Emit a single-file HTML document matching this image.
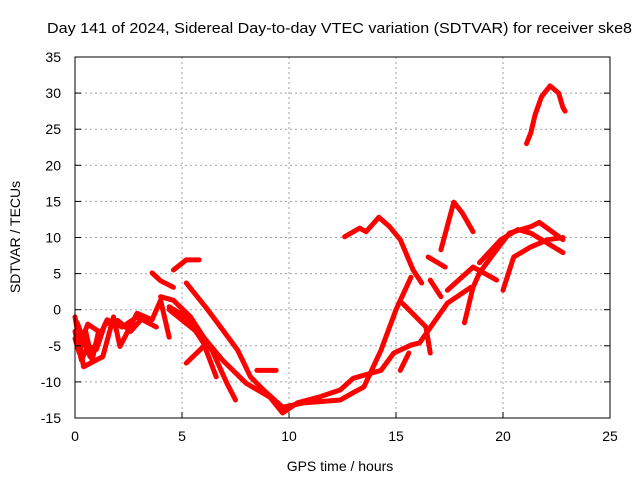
<!DOCTYPE html>
<html><head><meta charset="utf-8"><style>
body{margin:0;background:#fff;}
svg{display:block;font-family:"Liberation Sans",sans-serif;}
</style></head><body>
<svg id="c" width="640" height="480">
<text x="47" y="33" font-size="15" textLength="585" lengthAdjust="spacingAndGlyphs">Day 141 of 2024, Sidereal Day-to-day VTEC variation (SDTVAR) for receiver ske8</text>
<text transform="translate(20,237) rotate(-90)" font-size="14" text-anchor="middle">SDTVAR / TECUs</text>
<text x="340" y="471" font-size="14" text-anchor="middle">GPS time / hours</text>
<g id="grid"></g><g id="series"></g><g id="axes"></g>
</svg>
<script>
const xTicks=[0,5,10,15,20,25];
const yTicks=[-15,-10,-5,0,5,10,15,20,25,30,35];
const track1=[[0,-1],[0.4,-7.9],[1.3,-6.5],[1.8,-1],[2.1,-5.1],[2.9,-0.5],[3.6,-1.4],[4.0,1.3],[4.4,-3.8]];
const track2=[[0.1,-1.8],[0.7,-6.5],[1.5,-1.4],[2.2,-2.4],[2.9,-1],[3.8,-2.4]];
const track3=[[0,-3],[0.3,-7],[0.6,-5],[1,-5.5],[1.4,-2],[2,-1.5],[2.6,-3],[3.2,-1]];
const track3b=[[0,-4],[0.2,-6],[0.5,-3],[0.8,-7],[1.1,-3],[0.6,-2],[0.2,-5]];
const track4=[[3.6,5.1],[4.0,4.0],[4.6,3.1]];
const track5=[[4.6,5.5],[5.2,6.9],[5.8,6.9]];
const track6=[[4.0,1.8],[4.6,1.3],[5.4,-1],[6.4,-5.6],[7.1,-10.2],[7.5,-12.5]];
const track7=[[4.4,0.4],[5.2,-1],[6.0,-4.6],[6.6,-9.3]];
const track8=[[5.2,3.7],[6.2,0],[6.9,-2.8],[7.6,-5.6],[8.2,-9.3],[8.8,-11.1],[9.7,-13.5],[10.7,-12.9],[12.4,-12.5],[13.0,-11.5],[13.5,-10.7],[14.3,-5.6],[15.0,0],[15.7,4.5]];
const track9=[[4.4,0],[6.0,-3.8],[6.9,-7],[8.0,-10.2],[9.1,-12.1],[9.7,-14.3],[10.4,-12.9],[11.4,-12.1],[12.4,-11.1],[13.0,-9.5],[14.3,-8.4],[14.9,-6],[15.7,-4.9],[16.1,-4.6],[17.4,0.9],[18.5,3.1]];
const track10=[[5.2,-7.4],[6.0,-5.1]];
const track11=[[8.5,-8.4],[9.4,-8.4]];
const track12=[[12.6,10.1],[13.3,11.3],[13.6,10.8],[14.2,12.8],[14.7,11.5],[15.2,9.7],[15.8,5.5],[16.2,3.7]];
const track13=[[15.3,0.9],[16.4,-2.4],[16.6,-6]];
const track14=[[15.2,-8.4],[15.6,-6]];
const track15=[[16.6,4.1],[17.1,1.8]];
const track16=[[16.5,7.3],[17.3,5.9]];
const track17=[[17.1,8.3],[17.7,14.9],[18.1,13.4],[18.6,10.8]];
const track18=[[17.4,2.7],[18.6,5.9],[19.7,4.1]];
const track19=[[18.2,-1.8],[18.6,3.1],[18.9,5.1],[19.7,8.3],[20.3,10.6],[21.3,11.5],[21.7,12.1],[22.8,9.7]];
const track20=[[18.9,6.5],[19.9,9.7],[20.7,11.1],[21.3,10.6],[22.8,7.9]];
const track21=[[20.0,2.7],[20.5,7.3],[21.3,8.7],[22.1,9.7],[22.8,10]];
const track22=[[21.1,23],[21.3,24.5],[21.5,27],[21.8,29.5],[22.2,31],[22.6,30],[22.8,28],[22.9,27.5]];
const tracks=[track1,track2,track3,track3b,track4,track5,track6,track7,track8,track9,track10,track11,track12,track13,track14,track15,track16,track17,track18,track19,track20,track21,track22];
const X0=75,X1=610,Y0=418,Y1=57;
const sx=t=>X0+(t-0)/(25-0)*(X1-X0);
const sy=v=>Y0-(v+15)/(35+15)*(Y0-Y1);
const NS="http://www.w3.org/2000/svg";
const grid=document.getElementById('grid'),axes=document.getElementById('axes'),ser=document.getElementById('series');
function mk(tag,at,p){const e=document.createElementNS(NS,tag);for(const k in at)e.setAttribute(k,at[k]);p.appendChild(e);return e;}
xTicks.forEach(t=>{const x=sx(t);
 if(t>0&&t<25){const g=mk('line',{x1:x,x2:x,y1:Y1,y2:Y0,stroke:'#a0a0a0','stroke-dasharray':'2,3'},grid);
 
 }
 const tk=mk('line',{x1:x,x2:x,y1:Y0,y2:Y0-6,stroke:'#000'},axes);
 
 
 const tx=mk('text',{x:x,y:Y0+23,'font-size':'14','text-anchor':'middle'},axes);tx.textContent=t;
 
 
});
yTicks.forEach(v=>{const y=sy(v);
 if(v>-15&&v<35){const g=mk('line',{x1:X0,x2:X1,y1:y,y2:y,stroke:'#a0a0a0','stroke-dasharray':'2,3'},grid);
 
 }
 const tk=mk('line',{x1:X0,x2:X0+6,y1:y,y2:y,stroke:'#000'},axes);
 
 
 const tk2=mk('line',{x1:X1,x2:X1-6,y1:y,y2:y,stroke:'#000'},axes);
 
 
 const tx=mk('text',{x:X0-14,y:y+5,'font-size':'14','text-anchor':'end'},axes);tx.textContent=v;
 
 
});
const fr=mk('rect',{x:X0,y:Y1,width:X1-X0,height:Y0-Y1,fill:'none',stroke:'#000'},axes);


tracks.forEach(tr=>{
 const p=mk('polyline',{points:tr.map(d=>sx(d[0])+','+sy(d[1])).join(' '),fill:'none',stroke:'#ff0000','stroke-width':'5','stroke-linejoin':'round','stroke-linecap':'round'},ser);
 
 
});
</script>
</body></html>
